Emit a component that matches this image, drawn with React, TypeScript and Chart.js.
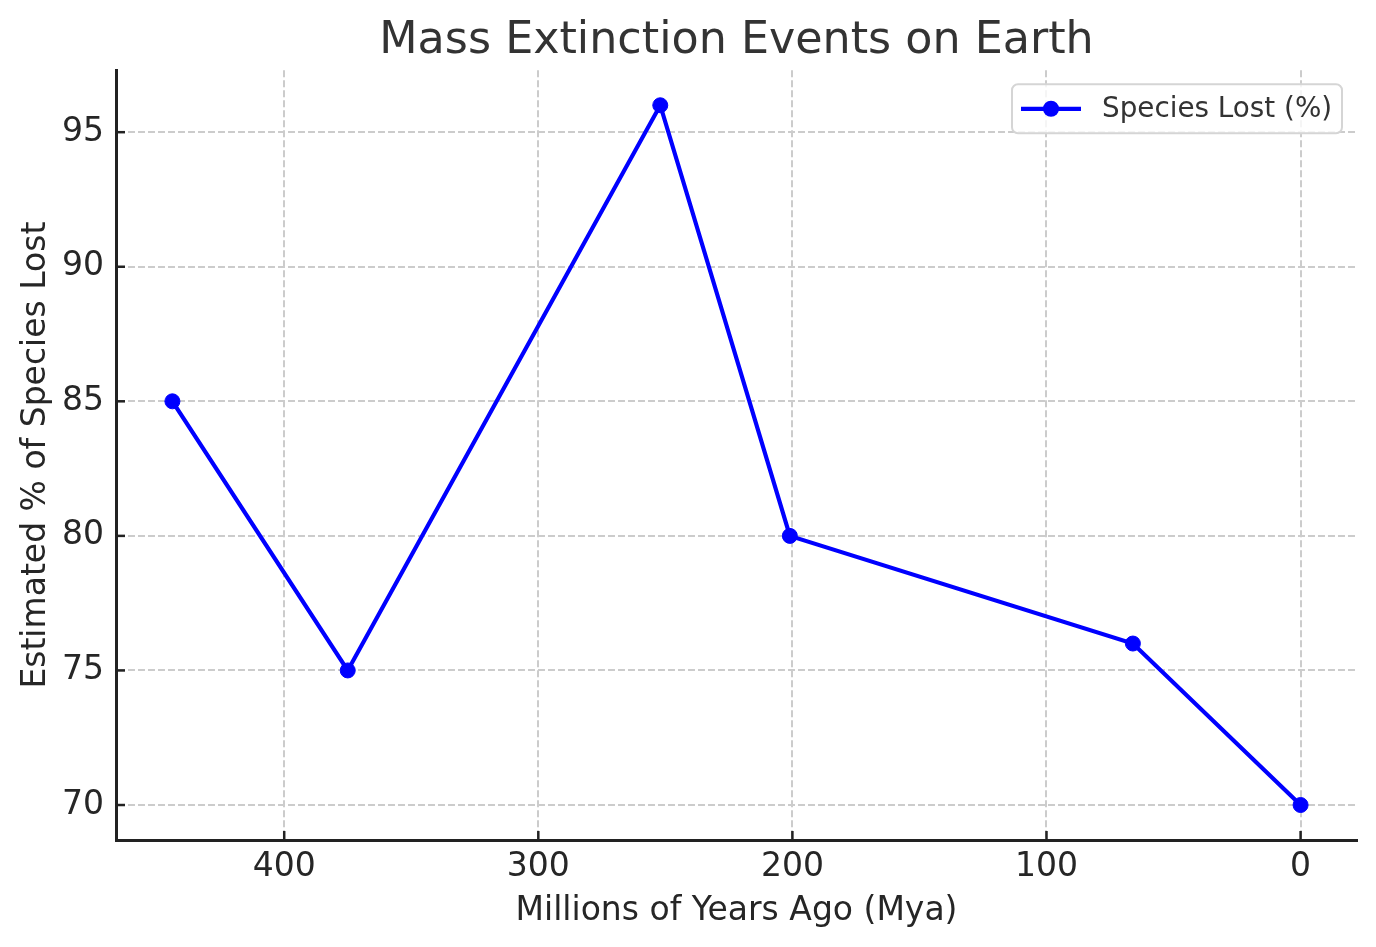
import React, { useEffect, useRef } from 'react';
import Chart from 'chart.js/auto';

// values
const millionsOfYearsAgo = [444, 375, 252, 201, 66, 0];
const speciesLost = [85, 75, 96, 80, 76, 70];
const seriesLabel = 'Species Lost (%)';

const FONT = '"DejaVu Sans", "Noto Sans", sans-serif';
const LINE_BLUE = '#0000ff';

// matplotlib-style inward tick marks
const inwardTicks = {
  id: 'inwardTicks',
  afterDatasetsDraw(chart: any) {
    const { ctx, chartArea, scales } = chart;
    ctx.save();
    ctx.strokeStyle = '#222';
    ctx.lineWidth = 2.5;
    scales.x.ticks.forEach((t: any) => {
      const px = scales.x.getPixelForValue(t.value);
      ctx.beginPath();
      ctx.moveTo(px, chartArea.bottom);
      ctx.lineTo(px, chartArea.bottom - 9);
      ctx.stroke();
    });
    scales.y.ticks.forEach((t: any) => {
      const py = scales.y.getPixelForValue(t.value);
      ctx.beginPath();
      ctx.moveTo(chartArea.left, py);
      ctx.lineTo(chartArea.left + 9, py);
      ctx.stroke();
    });
    ctx.restore();
  },
};

// legend box drawn inside the plot, top right
const boxedLegend = {
  id: 'boxedLegend',
  afterDraw(chart: any) {
    const { ctx, chartArea } = chart;
    const w = 330;
    const h = 49;
    const x = chartArea.right - 15 - w;
    const y = chartArea.top + 14;
    ctx.save();
    ctx.fillStyle = 'rgba(255,255,255,0.8)';
    ctx.strokeStyle = '#d5d5d5';
    ctx.lineWidth = 2;
    ctx.beginPath();
    if (ctx.roundRect) ctx.roundRect(x, y, w, h, 6);
    else ctx.rect(x, y, w, h);
    ctx.fill();
    ctx.stroke();

    const cy = y + h / 2;
    ctx.strokeStyle = LINE_BLUE;
    ctx.lineWidth = 4.2;
    ctx.beginPath();
    ctx.moveTo(x + 9, cy);
    ctx.lineTo(x + 69, cy);
    ctx.stroke();
    ctx.fillStyle = LINE_BLUE;
    ctx.beginPath();
    ctx.arc(x + 39, cy, 8, 0, Math.PI * 2);
    ctx.fill();

    ctx.fillStyle = '#333';
    ctx.font = `27.8px ${FONT}`;
    ctx.textBaseline = 'middle';
    ctx.textAlign = 'left';
    ctx.fillText(seriesLabel, x + 90, cy + 1);
    ctx.restore();
  },
};

const App: React.FC = () => {
  const canvasRef = useRef<HTMLCanvasElement>(null);
  const chartRef = useRef<Chart | null>(null);

  useEffect(() => {
    document.body.style.margin = '0';
    if (!canvasRef.current) return;
    const ctx = canvasRef.current.getContext('2d');
    if (!ctx) return;

    const points = millionsOfYearsAgo.map((x, i) => ({ x, y: speciesLost[i] }));

    chartRef.current = new Chart(ctx, {
      type: 'line',
      data: {
        datasets: [
          {
            label: seriesLabel,
            data: points,
            borderColor: LINE_BLUE,
            backgroundColor: LINE_BLUE,
            borderWidth: 4.2,
            pointRadius: 7.5,
            pointBorderWidth: 1,
            pointBackgroundColor: LINE_BLUE,
            pointBorderColor: LINE_BLUE,
            tension: 0,
            fill: false,
          },
        ],
      },
      options: {
        animation: false,
        responsive: true,
        maintainAspectRatio: false,
        layout: { padding: { left: 0, right: 19, top: 0, bottom: 0 } },
        plugins: {
          legend: { display: false },
          tooltip: { enabled: false },
          title: {
            display: true,
            fullSize: false,
            text: 'Mass Extinction Events on Earth',
            color: '#333',
            font: { family: FONT, size: 44.4, weight: 'normal' },
            padding: { top: 15, bottom: 2 },
          },
        },
        scales: {
          x: {
            type: 'linear',
            reverse: true,
            min: -22.2,
            max: 466.2,
            afterFit: (scale: any) => {
              scale.height = 107;
            },
            ticks: {
              stepSize: 100,
              includeBounds: false,
              color: '#262626',
              font: { family: FONT, size: 33 },
              padding: 8,
              maxRotation: 0,
            },
            grid: {
              color: '#cccccc',
              lineWidth: 2,
              drawTicks: false,
              tickLength: 0,
            },
            border: { color: '#222', width: 3, dash: [7, 3] },
            title: {
              display: true,
              text: 'Millions of Years Ago (Mya)',
              color: '#262626',
              font: { family: FONT, size: 33 },
              padding: { top: 0, bottom: 16 },
            },
          },
          y: {
            type: 'linear',
            min: 68.7,
            max: 97.3,
            afterFit: (scale: any) => {
              scale.width = 116;
            },
            ticks: {
              stepSize: 5,
              includeBounds: false,
              color: '#262626',
              font: { family: FONT, size: 33 },
              padding: 12,
            },
            grid: {
              color: '#cccccc',
              lineWidth: 2,
              drawTicks: false,
              tickLength: 0,
            },
            border: { color: '#222', width: 3, dash: [7, 3] },
            title: {
              display: true,
              text: 'Estimated % of Species Lost',
              color: '#262626',
              font: { family: FONT, size: 33 },
              padding: { top: 17, bottom: 0 },
            },
          },
        },
      },
      plugins: [inwardTicks, boxedLegend],
    });

    return () => {
      if (chartRef.current) {
        chartRef.current.destroy();
        chartRef.current = null;
      }
    };
  }, []);

  return (
    <div style={{ width: '1376px', height: '947px', position: 'relative', background: '#fff' }}>
      <canvas ref={canvasRef}></canvas>
    </div>
  );
};

export default App;
